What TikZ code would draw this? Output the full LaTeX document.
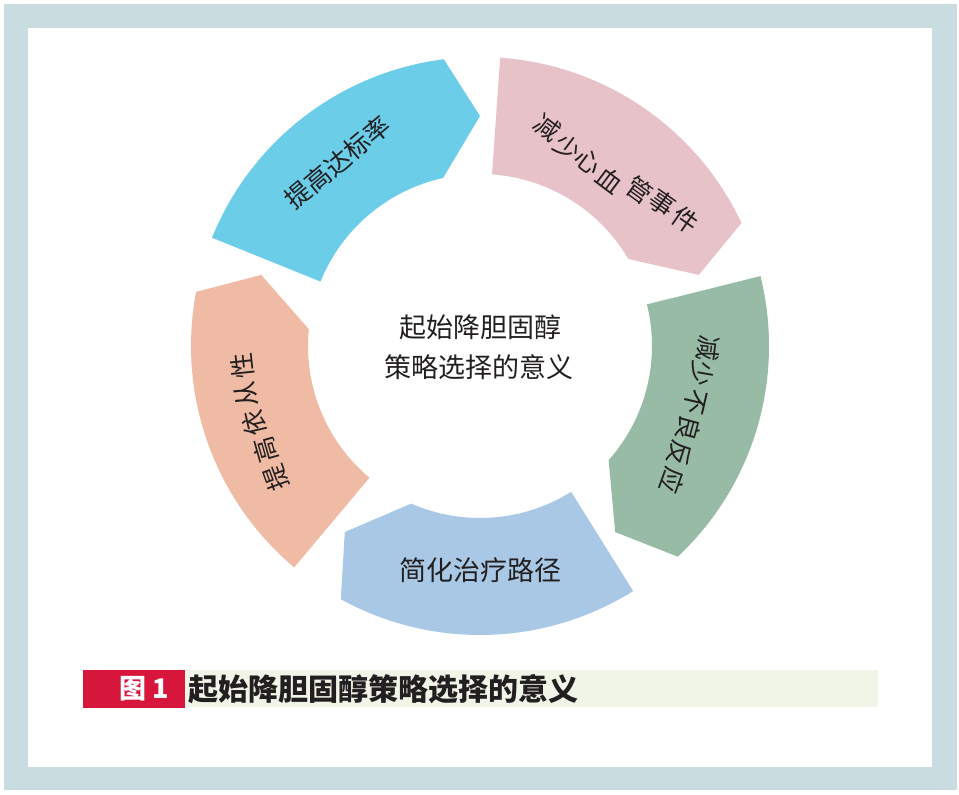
\documentclass[tikz,border=0pt]{standalone}
\usepackage{fontspec}
\newfontfamily\cjk{Noto Sans CJK SC}
\definecolor{framec}{HTML}{C9DDE1}
\definecolor{segA}{HTML}{6CCDE8}
\definecolor{segB}{HTML}{E7C2C8}
\definecolor{segC}{HTML}{98BBA6}
\definecolor{segD}{HTML}{A8C8E5}
\definecolor{segE}{HTML}{F0BBA4}
\definecolor{capred}{HTML}{D7163B}
\definecolor{capbg}{HTML}{F0F5E8}
\definecolor{txt}{HTML}{231F20}
\tikzset{
  lbl/.style={font=\cjk\fontsize{27}{32}\selectfont, text=txt, inner sep=0pt},
  chr/.style={font=\cjk\fontsize{25.5}{30}\selectfont, text=txt, inner sep=0pt},
  caplbl/.style={font=\cjk\bfseries\fontsize{30}{34}\selectfont, inner sep=0pt},
}
\newcommand{\Rout}{289}
\newcommand{\Rin}{172}
\newcommand{\Rmid}{230}
\begin{document}
\begin{tikzpicture}[x=1pt,y=1pt]
\useasboundingbox (0,0) rectangle (959,795);
\fill[framec] (4,5) rectangle (957,791);
\fill[white] (28,28) rectangle (932,767);
\coordinate (C) at (480,449);
% ring segments (chevron arcs, clockwise)
\foreach \k/\col in {0/segA,1/segB,2/segC,3/segD,4/segE}{
  \pgfmathsetmacro\Ta{158-72*\k}
  \pgfmathsetmacro\Pa{90-72*\k}
  \pgfmathsetmacro\Pout{\Pa+7.2}
  \pgfmathsetmacro\Pin{\Pa+12.4}
  \fill[\col] ([shift={(\Ta:\Rout)}]C) arc[start angle=\Ta, end angle=\Pout, radius=\Rout pt]
    -- ([shift={(\Pa:\Rmid)}]C)
    -- ([shift={(\Pin:\Rin)}]C) arc[start angle=\Pin, end angle=\Ta, radius=\Rin pt] -- cycle;
}
% segment labels
\node[chr, rotate=40] (la) at (337.5,632.5) {提高达标率};
\node[chr, rotate=-37] (lb1) at (547,667) {减};
\node[chr, rotate=-37] (lb2) at (568,648) {少};
\node[chr, rotate=-37] (lb3) at (588,633) {心};
\node[chr, rotate=-37] (lb4) at (610,615) {血};
\node[chr, rotate=-36] (lb5) at (640,605) {管};
\node[chr, rotate=-35] (lb6) at (662,592) {事};
\node[chr, rotate=-35] (lb7) at (685,575) {件};
\node[chr, rotate=-97] (lc1) at (708,447) {减};
\node[chr, rotate=-100] (lc2) at (702,421) {少};
\node[chr, rotate=-103] (lc3) at (695,393) {不};
\node[chr, rotate=-105] (lc4) at (689,367) {良};
\node[chr, rotate=-108] (lc5) at (680,341) {反};
\node[chr, rotate=-110] (lc6) at (672,314) {应};
\node[lbl] (ld) at (480.5,225) {简化治疗路径};
\node[chr, rotate=110] (le1) at (276,317) {提};
\node[chr, rotate=106] (le2) at (266,345) {高};
\node[chr, rotate=103] (le3) at (254,372) {依};
\node[chr, rotate=100] (le4) at (246,400) {从};
\node[chr, rotate=96] (le5) at (243,429) {性};
% centre text
\node[lbl] (c1) at (480,468) {起始降胆固醇};
\node[lbl] (c2) at (479,428) {策略选择的意义};
% caption
\fill[capbg] (185,87.5) rectangle (878,125);
\fill[capred] (83,87) rectangle (185,125);
\node[caplbl, text=white, font=\cjk\bfseries\fontsize{27}{32}\selectfont] (fig) at (144.5,106) {图 1};
\node[caplbl, text=txt] (cap) at (383,106) {起始降胆固醇策略选择的意义};
\end{tikzpicture}
\end{document}
